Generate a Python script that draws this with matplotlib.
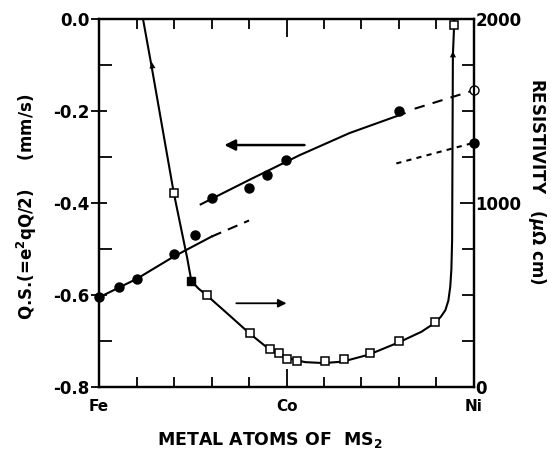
import matplotlib
matplotlib.use('Agg')
import matplotlib.pyplot as plt
from matplotlib.ticker import FixedLocator, MultipleLocator

plt.rcParams['font.family'] = 'DejaVu Sans'
plt.rcParams['font.weight'] = 'bold'
plt.rcParams['axes.unicode_minus'] = False

# ---------------- data ----------------
# composition axis: Fe = 0, Co = 0.5, Ni = 1
comp_ticks = [0.0, 0.5, 1.0]
comp_labels = ['Fe', 'Co', 'Ni']

# quadrupole splitting (filled circles, left axis)
qs_x = [0.0, 0.053, 0.10, 0.20, 0.255, 0.30, 0.40, 0.448, 0.498, 0.80]
qs_y = [-0.605, -0.583, -0.566, -0.511, -0.469, -0.390, -0.368, -0.339, -0.307, -0.199]
qs_ni_open_x = [1.0]
qs_ni_open_y = [-0.155]
qs_ni_fill_x = [1.0]
qs_ni_fill_y = [-0.269]

# QS guide curves
qs_lo_x = [0.0, 0.05, 0.10, 0.20, 0.30]
qs_lo_y = [-0.605, -0.585, -0.565, -0.516, -0.473]
qs_lo_dash_x = [0.30, 0.40]
qs_lo_dash_y = [-0.473, -0.438]
qs_hi_x = [0.271, 0.295, 0.40, 0.535, 0.668, 0.815]
qs_hi_y = [-0.403, -0.393, -0.350, -0.296, -0.248, -0.205]
qs_hi_dash_x = [0.842, 1.0]
qs_hi_dash_y = [-0.195, -0.155]
qs_dot_x = [0.793, 1.0]
qs_dot_y = [-0.314, -0.269]

# resistivity (open squares, right axis)
rho_x = [0.199, 0.289, 0.402, 0.457, 0.480, 0.50, 0.528, 0.602, 0.653, 0.722, 0.80, 0.897, 0.947]
rho_y = [1056, 500, 292, 205, 183, 152, 143, 143, 150, 186, 252, 355, 1967]
rho_fill_x = [0.246]
rho_fill_y = [576]

# resistivity guide curve
rho_curve_x = [0.117, 0.14, 0.199, 0.235, 0.246, 0.265, 0.289, 0.35, 0.402, 0.457, 0.50,
               0.55, 0.60, 0.65, 0.72, 0.80, 0.86, 0.897, 0.912, 0.924, 0.932, 0.937,
               0.940, 0.942, 0.944, 0.948]
rho_curve_y = [2000, 1741, 1056, 700, 576, 535, 495, 385, 290, 200, 158,
               135, 130, 138, 176, 243, 300, 350, 382, 418, 470, 545,
               640, 800, 1800, 2000]

# --------------- figure ----------------
fig = plt.figure(figsize=(5.51, 4.54), dpi=100)
ax = fig.add_axes([0.180, 0.1476, 0.680, 0.8105])
ax2 = ax.twinx()

lw = 1.5
ax.plot(qs_lo_x, qs_lo_y, color='black', lw=lw, clip_on=False)
ax.plot(qs_lo_dash_x, qs_lo_dash_y, color='black', lw=lw, dashes=(5, 3.5))
ax.plot(qs_hi_x, qs_hi_y, color='black', lw=lw)
ax.plot(qs_hi_dash_x, qs_hi_dash_y, color='black', lw=lw, dashes=(5, 4), clip_on=False)
ax.plot(qs_dot_x, qs_dot_y, color='black', lw=lw, dashes=(2.5, 2.5), clip_on=False)

ax.plot(qs_x, qs_y, 'o', color='black', ms=6.5, clip_on=False, zorder=5)
ax.plot(qs_ni_fill_x, qs_ni_fill_y, 'o', color='black', ms=6.5, clip_on=False, zorder=5)
ax.plot(qs_ni_open_x, qs_ni_open_y, 'o', mfc='white', mec='black', mew=1.0, ms=6.5,
        clip_on=False, zorder=5)

ax2.plot(rho_curve_x, rho_curve_y, color='black', lw=lw, solid_joinstyle='round')
ax2.plot(rho_x, rho_y, 's', mfc='white', mec='black', mew=1.1, ms=5.5, zorder=5)
ax2.plot(rho_fill_x, rho_fill_y, 's', color='black', ms=5.5, zorder=5)

# small arrowheads on the resistivity curve
ax2.annotate('', xy=(0.140, 1780), xytext=(0.146, 1650),
             arrowprops=dict(arrowstyle='-|>', color='black', lw=0.01, mutation_scale=11))
ax2.annotate('', xy=(0.9442, 1840), xytext=(0.9440, 1700),
             arrowprops=dict(arrowstyle='-|>', color='black', lw=0.01, mutation_scale=11))

# direction arrows
ax.annotate('', xy=(0.334, -0.274), xytext=(0.548, -0.274),
            arrowprops=dict(arrowstyle='-|>', color='black', lw=1.8, mutation_scale=16,
                            shrinkA=0, shrinkB=0))
ax2.annotate('', xy=(0.50, 455), xytext=(0.366, 455),
             arrowprops=dict(arrowstyle='-|>', color='black', lw=1.3, mutation_scale=12,
                             shrinkA=0, shrinkB=0))

# axes limits / ticks
ax.set_xlim(0, 1)
ax.set_ylim(-0.8, 0.0)
ax2.set_ylim(0, 2000)

ax.xaxis.set_major_locator(FixedLocator(comp_ticks))
ax.set_xticklabels(comp_labels)
ax.xaxis.set_minor_locator(MultipleLocator(0.1))
ax.yaxis.set_minor_locator(MultipleLocator(0.1))
ax.set_yticks([-0.8, -0.6, -0.4, -0.2, 0.0])
ax.set_yticklabels(['-0.8', '-0.6', '-0.4', '-0.2', '0.0'])

ax2.set_yticks([0, 1000, 2000])
ax2.set_yticklabels(['0', '1000', '2000'])
ax2.yaxis.set_minor_locator(MultipleLocator(250))

ax.tick_params(axis='x', which='major', direction='in', length=13, width=1.3,
               top=True, bottom=True, labelsize=11, pad=9)
ax.tick_params(axis='x', which='minor', direction='in', length=7, width=1.3,
               top=True, bottom=True)
ax.tick_params(axis='y', which='major', direction='inout', length=12, width=1.3,
               left=True, right=False, labelsize=12, pad=1)
ax.tick_params(axis='y', which='minor', direction='in', length=9, width=1.3,
               left=True, right=False)
ax2.tick_params(axis='y', which='major', direction='in', length=10, width=1.3,
                right=True, left=False, labelsize=12, pad=1)
ax2.tick_params(axis='y', which='minor', direction='in', length=9, width=1.3,
                right=True, left=False)

for a in (ax, ax2):
    for s in a.spines.values():
        s.set_linewidth(1.6)

# labels
fig.text(0.049, 0.545, 'Q.S.(=e$^2$qQ/2)     (mm/s)', rotation=90, ha='center',
         va='center', fontsize=12, fontweight='bold')
fig.text(0.975, 0.60, 'RESISTIVITY   ($\\mu\\Omega$ cm)', rotation=-90, ha='center',
         va='center', fontsize=12, fontweight='bold')
fig.text(0.49, 0.03, 'METAL ATOMS OF  MS$_2$', ha='center', va='center',
         fontsize=12.5, fontweight='bold')

fig.savefig('out.png', dpi=100)
